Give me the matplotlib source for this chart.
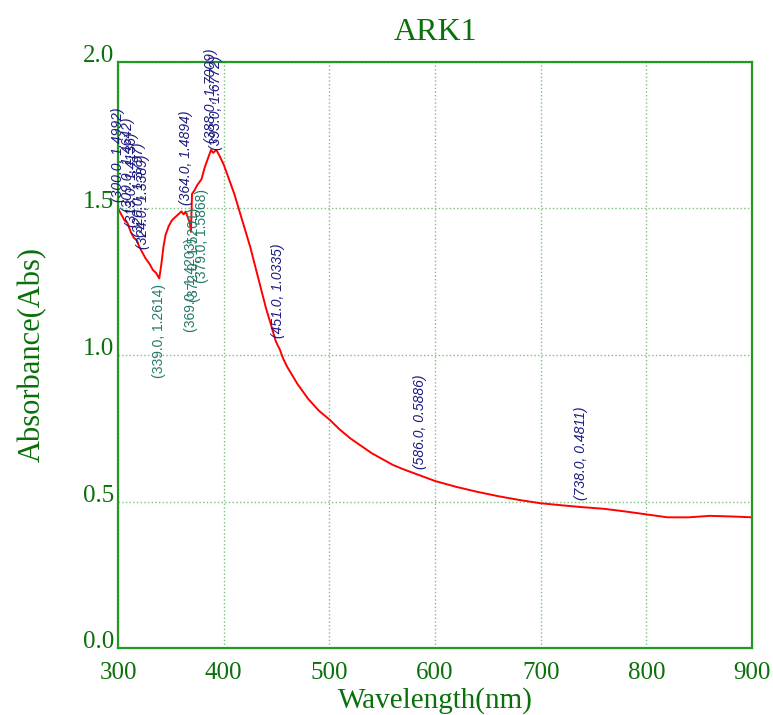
import matplotlib
matplotlib.use("Agg")
import matplotlib.pyplot as plt

# spectrum
wavelength = [300, 303, 306, 309, 312, 315, 318, 320, 323, 326, 330, 333, 336, 339,
              341, 343, 345, 348, 351, 354, 357, 360, 362, 364, 366, 368, 369,
              370, 372, 375, 379, 382, 385, 388, 390, 393, 396, 400, 405, 410,
              415, 420, 425, 430, 435, 440, 445, 449, 451, 453, 456, 460, 465,
              470, 480, 490, 500, 510, 520, 530, 540, 550, 560, 570, 586, 600,
              620, 640, 660, 680, 700, 720, 738, 760, 780, 800, 820, 840, 860,
              880, 900]
absorbance = [1.50, 1.48, 1.46, 1.45, 1.42, 1.40, 1.39, 1.37, 1.35, 1.33, 1.31, 1.29, 1.28, 1.2614,
              1.31, 1.37, 1.41, 1.44, 1.46, 1.47, 1.48, 1.49, 1.48, 1.4894, 1.47, 1.45, 1.42,
              1.55, 1.56, 1.58, 1.60, 1.64, 1.67, 1.70, 1.69, 1.70, 1.68, 1.65, 1.60, 1.55,
              1.49, 1.43, 1.37, 1.30, 1.23, 1.16, 1.10, 1.05, 1.0335, 1.02, 0.99, 0.96, 0.93,
              0.90, 0.85, 0.81, 0.78, 0.745, 0.715, 0.69, 0.665, 0.645, 0.625, 0.61, 0.5886, 0.570,
              0.550, 0.533, 0.518, 0.505, 0.494, 0.487, 0.4811, 0.475, 0.466, 0.456, 0.446, 0.446, 0.451,
              0.449, 0.446]

# peak picks (labels above) and valley picks (labels below)
peak_x = [300.0, 309.0, 313.0, 320.0, 324.0, 364.0, 388.0, 393.0, 451.0, 586.0, 738.0]
peak_y = [1.4992, 1.4642, 1.4136, 1.3797, 1.3389, 1.4894, 1.7009, 1.6772, 1.0335, 0.5886, 0.4811]
valley_x = [339.0, 369.0, 372.0, 379.0]
valley_y = [1.2614, 1.4203, 1.5201, 1.5868]

x_ticks = [300, 400, 500, 600, 700, 800, 900]
y_ticks = [0.0, 0.5, 1.0, 1.5, 2.0]

green = '#0a700a'
serif = ['Liberation Serif', 'DejaVu Serif']

fig = plt.figure(figsize=(7.73, 7.15), dpi=100)
ax = fig.add_axes([0.1527, 0.0937, 0.8202, 0.8196])

ax.plot(wavelength, absorbance, color='red', linewidth=1.4)

for x, y in zip(peak_x, peak_y):
    ax.annotate('(%.1f, %.4f)' % (x, y), (x, y), xytext=(0, 5), textcoords='offset points',
                rotation=90, ha='center', va='bottom', fontsize=10, style='italic',
                color='#1a1a80', family=['Liberation Sans', 'DejaVu Sans'])
for x, y in zip(valley_x, valley_y):
    ax.annotate('(%.1f, %.4f)' % (x, y), (x, y), xytext=(0, -4), textcoords='offset points',
                rotation=90, ha='center', va='top', fontsize=10,
                color='#237a6a', family=['Liberation Sans', 'DejaVu Sans'])

ax.set_xlim(300, 900)
ax.set_ylim(0, 2.0)
ax.set_xticks(x_ticks)
ax.set_yticks(y_ticks)
ax.set_xticklabels([str(t) for t in x_ticks])
ax.set_yticklabels(['%.1f' % t for t in y_ticks])
ax.tick_params(length=0, labelsize=18, labelcolor=green)
ax.tick_params(axis='x', pad=10)
ax.tick_params(axis='y', pad=3)
for lab in ax.get_xticklabels() + ax.get_yticklabels():
    lab.set_family(serif)
for lab in ax.get_yticklabels():
    lab.set_va('baseline')

ax.grid(True, linestyle=':', color='#7cc07c', linewidth=1.0)
for s in ax.spines.values():
    s.set_color('#229922')
    s.set_linewidth(1.6)

ax.set_xlabel('Wavelength(nm)', fontsize=21, color=green, family=serif, labelpad=2)
ax.set_ylabel('Absorbance(Abs)', fontsize=22, color=green, family=serif, labelpad=26)
ax.set_title('ARK1', fontsize=23, color=green, family=serif, pad=16)

fig.savefig('out.png', dpi=100)
